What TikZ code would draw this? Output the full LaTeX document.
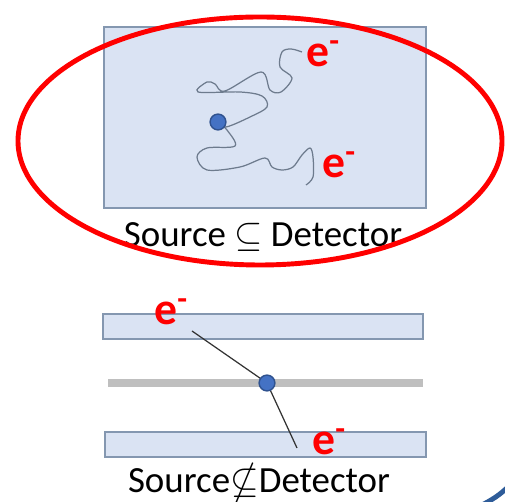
\documentclass[tikz,border=0pt]{standalone}
\usepackage{amssymb}
\usepackage{fontspec}
\setmainfont{Carlito}
\usetikzlibrary{positioning}

\definecolor{slab}{HTML}{DAE3F3}
\definecolor{slabline}{HTML}{8497B0}
\definecolor{srcblue}{HTML}{4472C4}
\definecolor{srcline}{HTML}{2F528F}
\definecolor{trackgray}{HTML}{6D7B8D}
\definecolor{foilgray}{HTML}{BFBFBF}
\definecolor{arcblue}{HTML}{2E5C99}

\tikzset{
  detector/.style={fill=slab, draw=slabline, line width=0.7pt},
  source/.style={circle, fill=srcblue, draw=srcline, line width=0.8pt,
                 minimum size=9pt, inner sep=0pt},
  electron/.style={text=red, font=\fontsize{26}{26}\selectfont\bfseries,
                   inner sep=0pt, anchor=base west},
  track/.style={trackgray, line width=0.7pt},
  caption/.style={font=\fontsize{21}{24}\selectfont, inner sep=0pt, anchor=base}
}

\begin{document}
\begin{tikzpicture}[x=0.02cm, y=-0.02cm]
   \useasboundingbox (0,0) rectangle (505,502);

   % source buried in the detector
   \filldraw[detector] (104,27) rectangle (426,208);
   \coordinate (src1) at (218,122);
   \draw[track] plot[smooth, tension=0.55] coordinates {
      (src1) (226,127) (250,117) (267,107) (262,96) (240,92) (198,92)
      (207,82) (215,84) (225,91) (261,72) (270,90) (281,92) (292,78)
      (280,67) (282,52) (291,49) (302,52)};
   \draw[track] plot[smooth, tension=0.55] coordinates {
      (src1) (227,130) (235,146) (207,148) (197,157) (207,170) (240,167)
      (265,158) (272,167) (282,170) (293,167) (302,155) (310,148)
      (313,157) (313,177) (306,185)};
   \node[source] (dot1) at (src1) {};
   \node[electron] (e1) at (306,67)  {e\textsuperscript{-}};
   \node[electron] (e2) at (322,178) {e\textsuperscript{-}};
   \node[caption] (cap1) at (263,247) {Source $\subseteq$ Detector};

   \draw[red, line width=2.8pt] (260,141) ellipse [x radius=242, y radius=124];

   % source on a thin foil between two detectors
   \filldraw[detector] (103,314) rectangle (423,339);
   \fill[foilgray] (108,379) rectangle (423,387);
   \filldraw[detector] (105,432) rectangle (426,457);
   \coordinate (up) at (192,331);
   \coordinate (down) at (297,448);
   \coordinate (src2) at (267,383);
   \draw[black!80, line width=0.7pt] (up) -- (src2) -- (down);
   \node[source] (dot2) at (src2) {};
   \node[electron] (e3) at (154,325) {e\textsuperscript{-}};
   \node[electron] (e4) at (312,455) {e\textsuperscript{-}};
   \node[caption] (cap2) at (259,493) {Source$\nsubseteq$Detector};

   % corner of the next shape
   \draw[arcblue, line width=2.8pt] (480,506) .. controls (492,500) and (500,495) .. (510,485);
\end{tikzpicture}
\end{document}
